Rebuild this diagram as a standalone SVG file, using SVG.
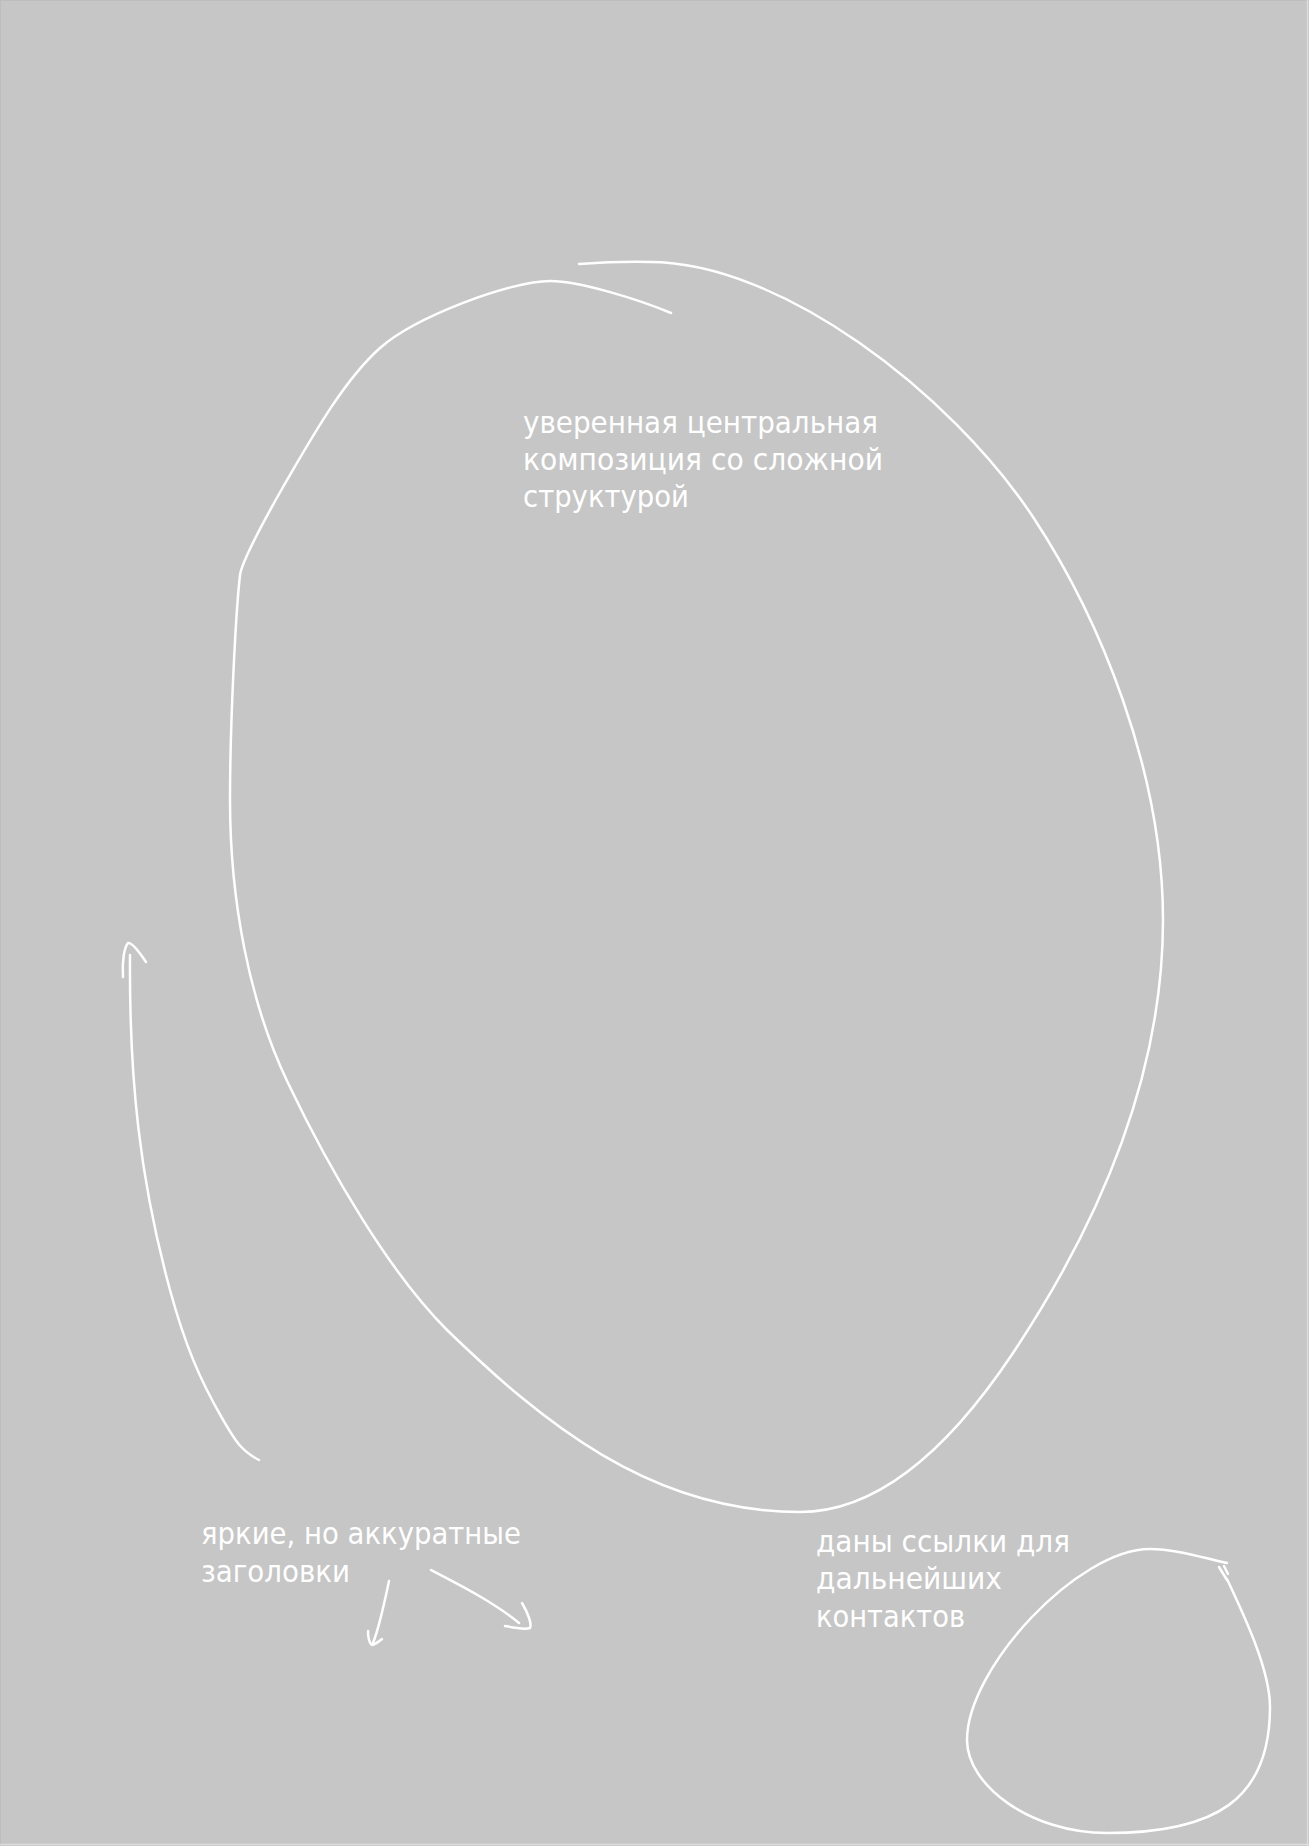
<svg xmlns="http://www.w3.org/2000/svg" width="1309" height="1846" viewBox="0 0 1309 1846">
<style>
.bg{fill:#c6c6c6}
.ln{fill:none;stroke:#ffffff;stroke-width:2.5;stroke-linecap:round;stroke-linejoin:round}
.lbl{font-family:"DejaVu Sans","Noto Sans",sans-serif;font-size:31px;fill:#ffffff}
</style>
<rect class="bg" x="0" y="0" width="1309" height="1846"/>
<line x1="0" y1="0.5" x2="1309" y2="0.5" stroke="#bdbdbd" stroke-width="1"/>
<line x1="0.5" y1="0" x2="0.5" y2="1846" stroke="#bdbdbd" stroke-width="1"/>
<line x1="1307.5" y1="0" x2="1307.5" y2="1846" stroke="#dcdcdc" stroke-width="1.5"/>
<line x1="0" y1="1844.5" x2="1309" y2="1844.5" stroke="#dcdcdc" stroke-width="1.5"/>
<g id="connectors">
<path class="ln" d="M579,264 C600,262.5 625,261.5 650,262 C780,262 950.5,392.5 1033,517 C1099,617 1163,770 1163,920 C1163,1080 1096,1228 1013,1353 C963,1428 890,1512 800,1512 C650,1512 541,1421 447,1330 C390,1273 331,1173 288,1083 C249,1002 230,900 230,800 C230,720 236,610 240,575 C242,560 266,517 283,487 C311,439 343,381 380,348 C415,317 510,281 550,281 C580,281 640,300 671,313"/>
<path class="ln" d="M130,955 C129,1080 140,1180 170,1290 C185,1345 200,1380 222,1418 C235,1440 240,1450 259,1460"/>
<path class="ln" d="M123,977 C122,962 124,948 128,943 C132,942 140,953 146,962"/>
<path class="ln" d="M389,1581 C384,1605 379,1628 373,1643"/>
<path class="ln" d="M368,1631 Q368,1642 372,1645 Q376,1644 382,1639"/>
<path class="ln" d="M431,1570 C460,1585 495,1603 519,1623"/>
<path class="ln" d="M522,1603 C528,1613 532,1624 530,1628 C524,1630 515,1628 505,1626"/>
<path class="ln" d="M1227,1563 C1200,1557 1175,1549 1150,1549 C1078,1549 967,1668 967,1740 C967,1785 1030,1833 1107,1833 C1215,1833 1270,1800 1270,1707 C1270,1670 1244,1615 1227,1579"/>
<path class="ln" d="M1219,1567 L1227,1580 M1224,1566 L1228,1574"/>
</g>
<g id="node-center">
<text class="lbl" x="523" y="433" textLength="355" lengthAdjust="spacingAndGlyphs">уверенная центральная</text>
<text class="lbl" x="523" y="470" textLength="360" lengthAdjust="spacingAndGlyphs">композиция со сложной</text>
<text class="lbl" x="523" y="507" textLength="166" lengthAdjust="spacingAndGlyphs">структурой</text>
</g>
<g id="node-headings">
<text class="lbl" x="201" y="1544" textLength="320" lengthAdjust="spacingAndGlyphs">яркие, но аккуратные</text>
<text class="lbl" x="201" y="1582" textLength="149" lengthAdjust="spacingAndGlyphs">заголовки</text>
</g>
<g id="node-contacts">
<text class="lbl" x="816" y="1552" textLength="254" lengthAdjust="spacingAndGlyphs">даны ссылки для</text>
<text class="lbl" x="816" y="1589" textLength="186" lengthAdjust="spacingAndGlyphs">дальнейших</text>
<text class="lbl" x="816" y="1627" textLength="149" lengthAdjust="spacingAndGlyphs">контактов</text>
</g>
</svg>
